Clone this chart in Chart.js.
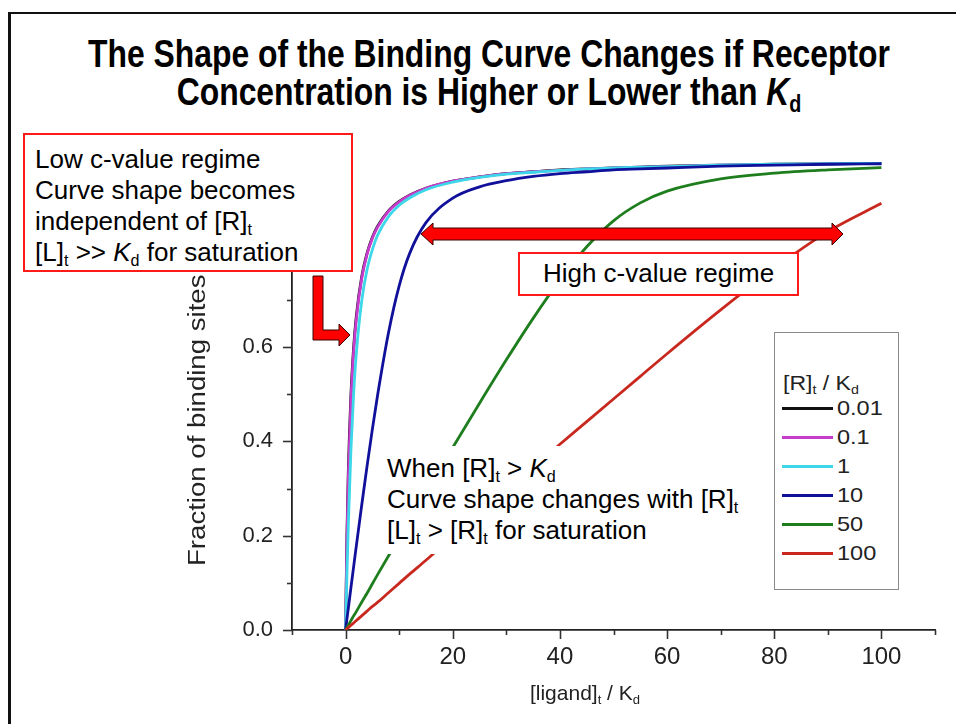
<!DOCTYPE html>
<html><head><meta charset="utf-8">
<script src="https://cdn.jsdelivr.net/npm/chart.js@4.4.0/dist/chart.umd.min.js"></script>
<style>
html,body{margin:0;padding:0;background:#fff;}
body{width:956px;height:724px;position:relative;overflow:hidden;font-family:"Liberation Sans",Arial,Helvetica,sans-serif;color:#000;}
#frame{position:absolute;left:8px;top:12px;width:1000px;height:800px;border-left:3px solid #111;border-top:2px solid #111;}
#title{position:absolute;left:0;top:35px;width:978px;text-align:center;font-family:"Liberation Sans Narrow","Arial Narrow","Liberation Sans",Arial,sans-serif;font-weight:bold;font-size:38px;line-height:38px;white-space:nowrap;transform-origin:489px 0;}
#title span{display:inline-block;}
#chartWrap{position:absolute;left:0;top:0;width:956px;height:724px;}
.box{position:absolute;background:#fff;border:2px solid #ff1a1a;box-sizing:border-box;font-size:26px;line-height:31px;white-space:nowrap;}
sub{font-size:0.62em;vertical-align:-0.3em;line-height:0;}
#lowBox{left:23px;top:133px;width:330px;height:139px;padding:9px 0 0 10px;}
#highBox{left:518px;top:252px;width:281px;height:44px;text-align:center;line-height:38px;}
#whenBox{position:absolute;left:380px;top:446px;width:380px;height:108px;background:#fff;font-size:26px;line-height:31px;padding:7px 0 0 7px;box-sizing:border-box;white-space:nowrap;}
#yTitle{position:absolute;left:185px;top:566px;font-size:23px;line-height:24px;color:#222;white-space:nowrap;transform-origin:0 0;transform:rotate(-90deg) scaleX(1.2);}
#xTitle{position:absolute;left:420px;width:330px;top:681px;text-align:center;font-size:21px;line-height:24px;color:#222;white-space:nowrap;}
#legend{position:absolute;left:774px;top:332px;width:125px;height:258px;border:1px solid #8a8a8a;box-sizing:border-box;background:#fff;}
#legTitle{position:absolute;left:8px;top:39px;font-size:20px;line-height:22px;color:#222;white-space:nowrap;transform-origin:0 0;transform:scaleX(1.15);}
.legRow{position:absolute;left:7px;height:24px;width:115px;}
.legLine{position:absolute;left:0;top:11px;width:51px;height:3px;}
.legText{position:absolute;left:55px;top:0;font-size:21px;line-height:24px;color:#222;transform-origin:0 50%;transform:scaleX(1.12);}
svg{position:absolute;left:0;top:0;}
</style>
</head>
<body>
<div id="frame"></div>
<div id="title"><span id="t1">The Shape of the Binding Curve Changes if Receptor</span><br><span id="t2">Concentration is Higher or Lower than <i>K</i><sub>d</sub></span></div>
<div id="chartWrap"><canvas id="chart"></canvas></div>
<div id="yTitle">Fraction of binding sites occupied</div>
<div id="xTitle">[ligand]<sub>t</sub> / K<sub>d</sub></div>
<div id="whenBox">When [R]<sub>t</sub> &gt; <i>K</i><sub>d</sub><br>Curve shape changes with [R]<sub>t</sub><br>[L]<sub>t</sub> &gt; [R]<sub>t</sub> for saturation</div>
<div id="legend"><div id="legTitle">[R]<sub>t</sub> / K<sub>d</sub></div></div>
<div class="box" id="lowBox">Low c-value regime<br>Curve shape becomes<br>independent of [R]<sub>t</sub><br>[L]<sub>t</sub> &gt;&gt; <i>K</i><sub>d</sub> for saturation</div>
<div class="box" id="highBox">High c-value regime</div>
<svg width="956" height="724">
  <polygon points="421,234 433,223 433,228 832,228 832,223 843,234 832,245 832,240 433,240 433,245" fill="#ff0000" stroke="#3a0000" stroke-width="1"/>
  <polygon points="313,276 323,276 323,330 339,330 339,324 350,335 339,346 339,340 313,340" fill="#ff0000" stroke="#3a0000" stroke-width="1"/>
</svg>
<script>
// x values: [ligand]t / Kd
const ligand = [0, 0.25, 0.5, 1, 1.5, 2, 3, 4, 5, 6, 8, 10, 12, 15, 20, 25, 30, 35, 40, 45, 50, 55, 60, 70, 80, 90, 100];
// series names: [R]t / Kd
const seriesLabels = ['0.01', '0.1', '1', '10', '50', '100'];
// fraction of binding sites occupied
const r0_01 = [0, 0.200, 0.333, 0.499, 0.599, 0.666, 0.749, 0.799, 0.833, 0.857, 0.889, 0.909, 0.923, 0.937, 0.952, 0.961, 0.968, 0.972, 0.976, 0.978, 0.980, 0.982, 0.984, 0.986, 0.988, 0.989, 0.990];
const r0_1  = [0, 0.188, 0.319, 0.488, 0.590, 0.659, 0.745, 0.797, 0.831, 0.855, 0.888, 0.908, 0.922, 0.937, 0.952, 0.961, 0.968, 0.972, 0.975, 0.978, 0.980, 0.982, 0.983, 0.986, 0.987, 0.989, 0.990];
const r1    = [0, 0.117, 0.219, 0.382, 0.500, 0.586, 0.697, 0.764, 0.807, 0.838, 0.877, 0.901, 0.917, 0.934, 0.950, 0.960, 0.967, 0.971, 0.975, 0.978, 0.980, 0.982, 0.983, 0.986, 0.988, 0.989, 0.990];
const r10   = [0, 0.023, 0.045, 0.090, 0.134, 0.178, 0.264, 0.347, 0.426, 0.500, 0.630, 0.730, 0.800, 0.864, 0.916, 0.940, 0.953, 0.962, 0.968, 0.972, 0.976, 0.978, 0.980, 0.984, 0.986, 0.988, 0.989];
const r50   = [0, 0.005, 0.010, 0.020, 0.030, 0.039, 0.059, 0.078, 0.098, 0.118, 0.157, 0.195, 0.234, 0.292, 0.387, 0.481, 0.573, 0.661, 0.742, 0.813, 0.868, 0.906, 0.931, 0.957, 0.969, 0.976, 0.981];
const r100  = [0, 0.0025, 0.005, 0.010, 0.015, 0.020, 0.030, 0.040, 0.050, 0.059, 0.079, 0.099, 0.119, 0.148, 0.198, 0.247, 0.296, 0.345, 0.394, 0.442, 0.490, 0.538, 0.586, 0.679, 0.767, 0.845, 0.905];
const seriesValues = [r0_01, r0_1, r1, r10, r50, r100];
const seriesColors = ['#111111', '#c83ccc', '#3cd8ea', '#10109a', '#1e7e1e', '#c8281e'];
// axis tick settings
const xMin = -10, xMax = 110, xStep = 10, xLabelEvery = 20;
const yMin = 0, yMax = 1.05, yStep = 0.1;

// condensed title: fit the first line to its width in the slide
(function () {
  const w = document.getElementById('t1').getBoundingClientRect().width;
  const s = Math.min(1, 802 / w);
  document.getElementById('title').style.transform = 'scaleX(' + s + ')';
})();

const datasets = seriesLabels.map((lab, i) => ({
  label: lab,
  data: ligand.map((x, j) => ({x: x, y: seriesValues[i][j]})),
  borderColor: seriesColors[i],
  backgroundColor: seriesColors[i],
  borderWidth: 2.8,
  pointRadius: 0,
  fill: false,
  cubicInterpolationMode: 'monotone',
  order: seriesLabels.length - 1 - i
}));

const tickMarks = {
  id: 'tickMarks',
  afterDraw(chart) {
    const {ctx, chartArea, scales} = chart;
    ctx.save();
    ctx.strokeStyle = '#333';
    ctx.lineWidth = 1.6;
    scales.x.ticks.forEach(t => {
      const px = Math.round(scales.x.getPixelForValue(t.value)) + 0.5;
      const major = Math.abs(Math.round(t.value) % xLabelEvery) === 0;
      const len = major ? 9 : 5;
      ctx.beginPath(); ctx.moveTo(px, chartArea.bottom); ctx.lineTo(px, chartArea.bottom + len); ctx.stroke();
    });
    scales.y.ticks.forEach(t => {
      if (t.value > 1.0001) return;
      const py = Math.round(scales.y.getPixelForValue(t.value)) + 0.5;
      const major = Math.round(t.value * 10) % 2 === 0;
      const len = major ? 9 : 5;
      ctx.beginPath(); ctx.moveTo(chartArea.left, py); ctx.lineTo(chartArea.left - len, py); ctx.stroke();
    });
    ctx.restore();
  }
};

new Chart(document.getElementById('chart'), {
  type: 'line',
  data: {datasets},
  options: {
    responsive: true,
    maintainAspectRatio: false,
    animation: false,
    devicePixelRatio: 1,
    layout: {padding: {top: 135, right: 21, left: 0, bottom: 0}},
    plugins: {legend: {display: false}, tooltip: {enabled: false}, title: {display: false}},
    scales: {
      x: {
        type: 'linear', min: xMin, max: xMax,
        afterFit(s) { s.height = 94; },
        grid: {display: true, drawOnChartArea: false, drawTicks: false},
        border: {display: true, color: '#222', width: 1.8},
        ticks: {
          stepSize: xStep, autoSkip: false, maxRotation: 0, padding: 13,
          color: '#222', font: {family: '"Liberation Sans", Arial, sans-serif', size: 24},
          callback: v => (Math.round(v) % xLabelEvery === 0 ? String(Math.round(v)) : '')
        }
      },
      y: {
        type: 'linear', min: yMin, max: yMax,
        afterFit(s) { s.width = 292; },
        grid: {display: true, drawOnChartArea: false, drawTicks: false},
        border: {display: true, color: '#222', width: 1.8},
        ticks: {
          stepSize: yStep, autoSkip: false, padding: 19,
          color: '#222', font: {family: '"Liberation Sans", Arial, sans-serif', size: 22},
          callback: v => (Math.round(v * 10) % 2 === 0 && v <= 1.0001 ? v.toFixed(1) : '')
        }
      }
    }
  },
  plugins: [tickMarks]
});

// legend built from the series
const leg = document.getElementById('legend');
seriesLabels.forEach((lab, i) => {
  const row = document.createElement('div');
  row.className = 'legRow';
  row.style.top = (63 + i * 29) + 'px';
  const line = document.createElement('div');
  line.className = 'legLine';
  line.style.background = seriesColors[i];
  const txt = document.createElement('div');
  txt.className = 'legText';
  txt.textContent = lab;
  row.appendChild(line); row.appendChild(txt);
  leg.appendChild(row);
});
</script>
</body></html>
